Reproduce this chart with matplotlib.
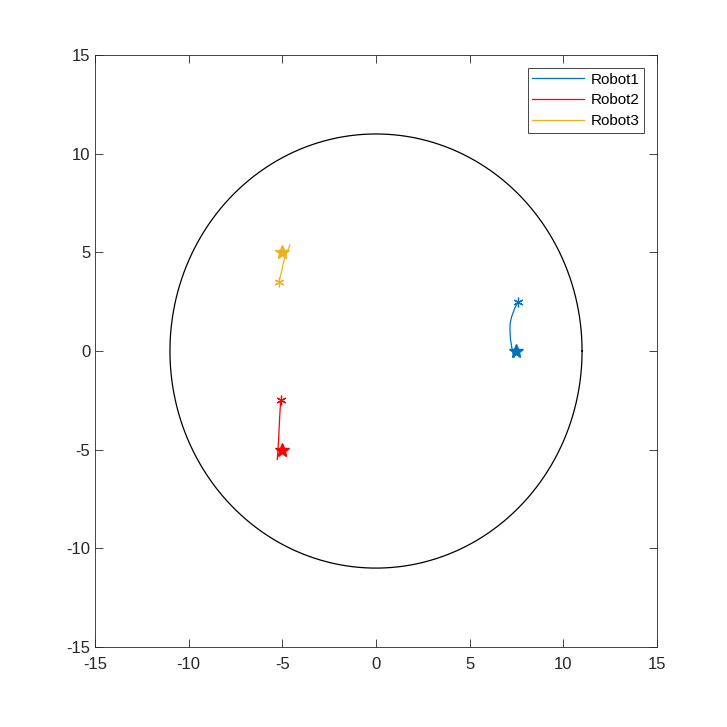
import numpy as np
import matplotlib.pyplot as plt

plt.rcParams['font.family'] = ['Liberation Sans', 'DejaVu Sans']
plt.rcParams['axes.unicode_minus'] = False

# trajectories
r1_x = [7.6, 7.42, 7.24, 7.16, 7.15, 7.18, 7.24, 7.37]
r1_y = [2.5, 2.2, 1.74, 1.4, 1.06, 0.6, 0.22, -0.32]
r2_x = [-5.09, -5.15, -5.2, -5.27]
r2_y = [-2.48, -3.5, -4.5, -5.49]
r3_x = [-5.18, -5.05, -4.95, -4.78, -4.59]
r3_y = [3.51, 4.0, 4.44, 4.95, 5.37]
start_x = [7.6, -5.09, -5.18]
start_y = [2.5, -2.48, 3.51]
goal_x = [7.5, -5.0, -5.0]
goal_y = [0.0, -5.0, 5.0]
names = ['Robot1', 'Robot2', 'Robot3']
colors = [(0, 0.447, 0.741), (1, 0, 0), (0.929, 0.694, 0.125)]
radius = 11

fig = plt.figure(figsize=(7.27, 7.27), dpi=100)
ax = fig.add_axes([0.1307, 0.11, 0.773, 0.8143])

paths = [(r1_x, r1_y), (r2_x, r2_y), (r3_x, r3_y)]
for i, (px, py) in enumerate(paths):
    ax.plot(px, py, '-', color=colors[i], lw=0.9, label=names[i])
    ax.plot(start_x[i], start_y[i], color=colors[i], marker=(6, 2, 0), ms=7, mew=0.9)
    ax.plot(goal_x[i], goal_y[i], '*', color=colors[i], ms=10)

t = np.linspace(0, 2 * np.pi, 400)
ax.plot(radius * np.cos(t), radius * np.sin(t), 'k-', lw=0.9)

ax.set_xlim(-15, 15)
ax.set_ylim(-15, 15)
ticks = [-15, -10, -5, 0, 5, 10, 15]
ax.set_xticks(ticks)
ax.set_yticks(ticks)
ax.tick_params(direction='in', top=True, right=True, labelsize=12, length=6,
               width=0.6, colors='#262626', labelcolor='#262626')
ax.tick_params(axis='x', pad=7)
for s in ax.spines.values():
    s.set_linewidth(0.6)
    s.set_color('#262626')

leg = ax.legend(loc='upper right', fontsize=11, fancybox=False, framealpha=1,
                edgecolor='#262626', handlelength=3.4, borderaxespad=0.85,
                labelspacing=0.45, handletextpad=0.4, borderpad=0.3)
leg.get_frame().set_linewidth(0.6)

fig.savefig('out.png', dpi=100)
